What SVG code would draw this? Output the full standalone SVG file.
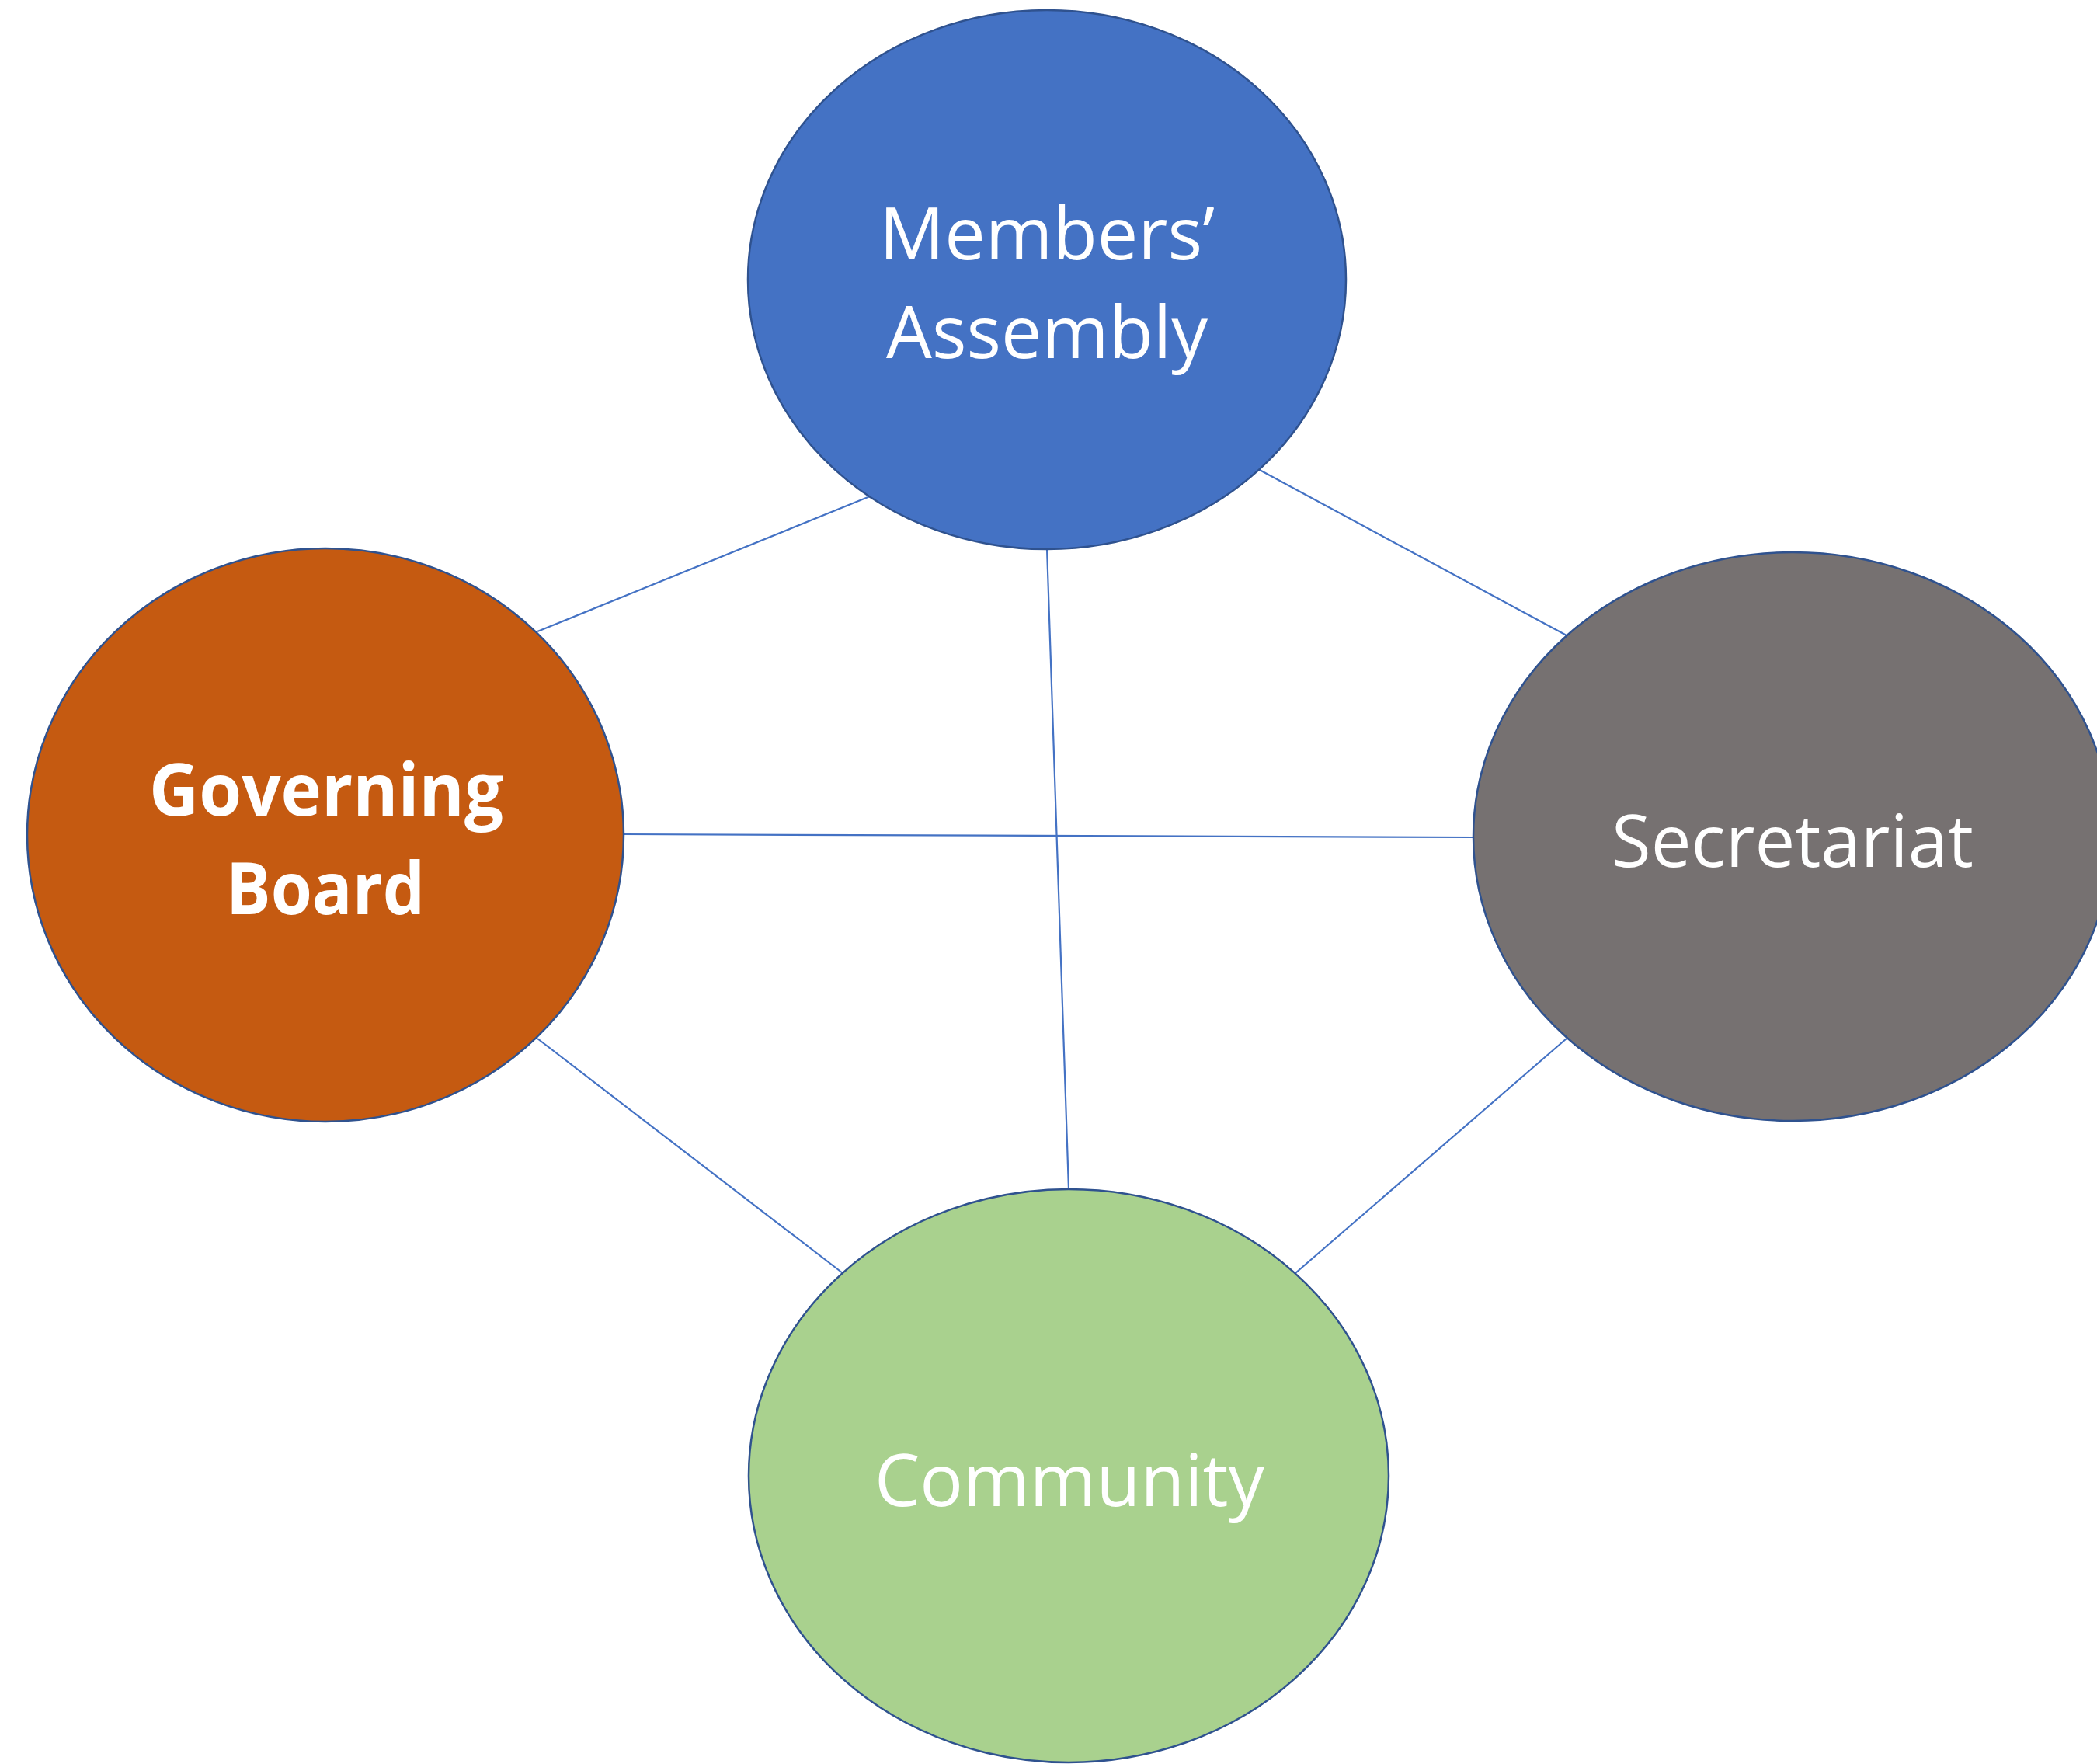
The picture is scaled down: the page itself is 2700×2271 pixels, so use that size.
<svg xmlns="http://www.w3.org/2000/svg" width="2700" height="2271" viewBox="0 0 2700 2271">
<style>
.node{stroke:#2F528F;stroke-width:2.5}
.conn line{stroke:#4472C4;stroke-width:2.2;fill:none}
.lbl{font-family:"Open Sans","Noto Sans","Liberation Sans",sans-serif;font-size:94px;fill:#FFFFFF;text-anchor:middle}
.bold{font-weight:bold}
</style>
<rect width="2700" height="2271" fill="#FFFFFF"/>
<g id="connectors" class="conn">
<line x1="692" y1="813" x2="1120" y2="639"/>
<line x1="1620" y1="604" x2="2017" y2="818"/>
<line x1="1348" y1="706" x2="1376" y2="1531"/>
<line x1="803" y1="1074" x2="1897" y2="1078"/>
<line x1="692" y1="1337" x2="1085" y2="1639"/>
<line x1="2017" y1="1337" x2="1668" y2="1639"/>
</g>
<g id="members-assembly">
<ellipse class="node" cx="1348" cy="360" rx="385" ry="347" fill="#4472C4"/>
<text class="lbl" x="1348" y="334" textLength="432" lengthAdjust="spacingAndGlyphs">Members’</text>
<text class="lbl" x="1348" y="461" textLength="414" lengthAdjust="spacingAndGlyphs">Assembly</text>
</g>
<g id="governing-board">
<ellipse class="node" cx="419" cy="1075" rx="384" ry="369" fill="#C55A11"/>
<text class="lbl bold" x="420" y="1050" textLength="456" lengthAdjust="spacingAndGlyphs">Governing</text>
<text class="lbl bold" x="419" y="1177" textLength="256" lengthAdjust="spacingAndGlyphs">Board</text>
</g>
<g id="secretariat">
<ellipse class="node" cx="2308" cy="1077" rx="411" ry="366" fill="#767171"/>
<text class="lbl" x="2308" y="1116" textLength="466" lengthAdjust="spacingAndGlyphs">Secretariat</text>
</g>
<g id="community">
<ellipse class="node" cx="1376" cy="1900" rx="412" ry="369" fill="#A9D18E"/>
<text class="lbl" x="1377" y="1939" textLength="502" lengthAdjust="spacingAndGlyphs">Community</text>
</g>
</svg>
